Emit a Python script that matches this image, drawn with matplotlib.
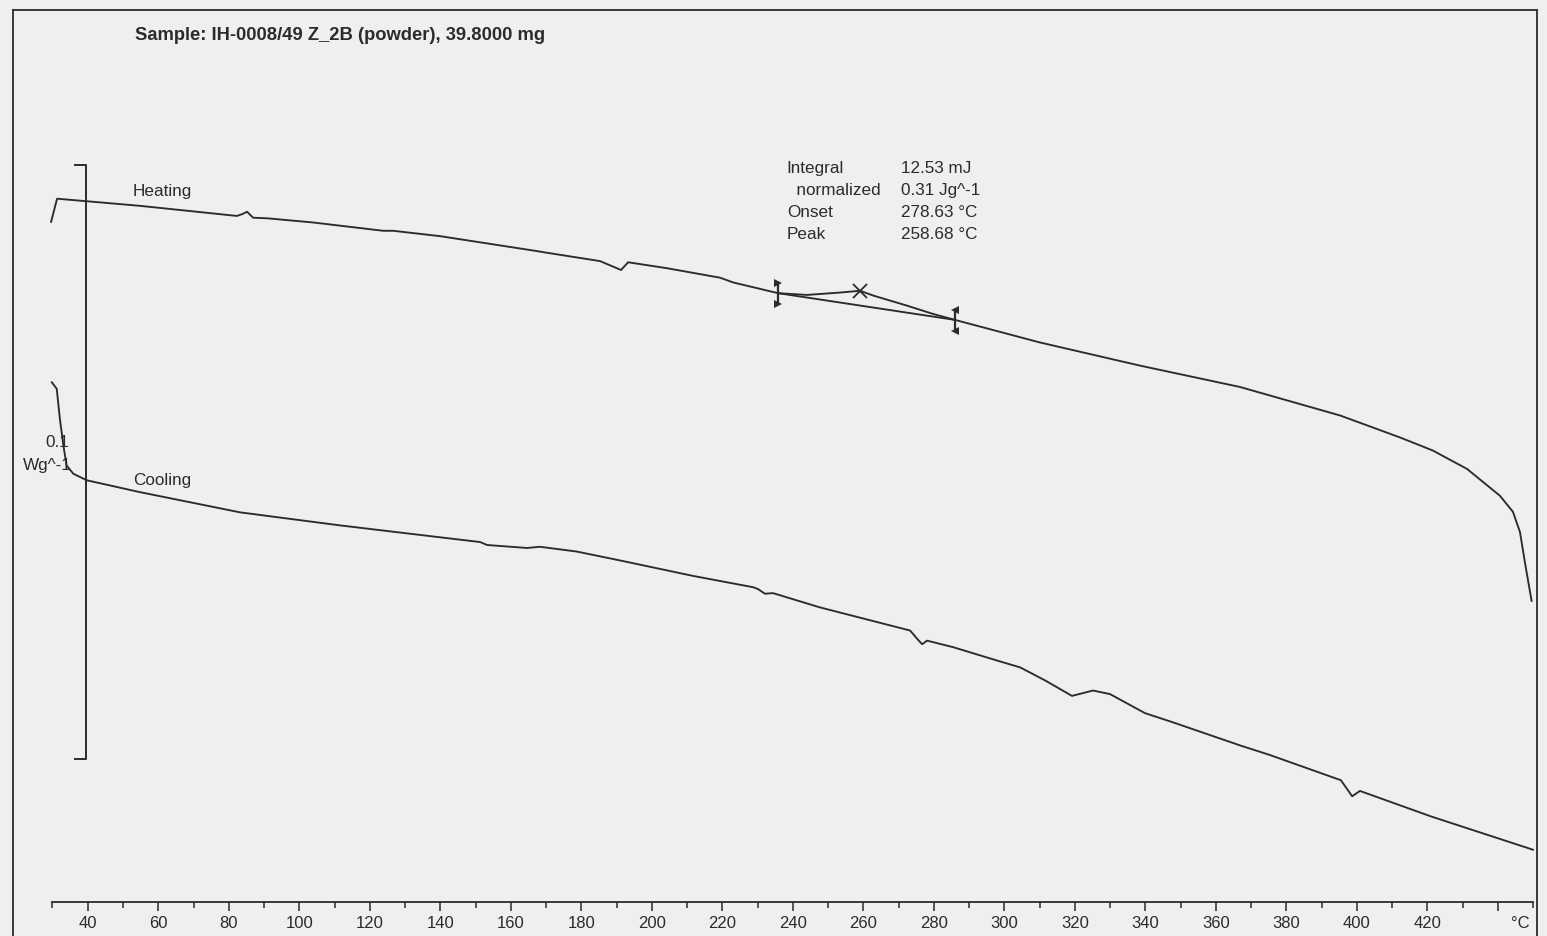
import numpy as np
import matplotlib
matplotlib.use("Agg")
import matplotlib.pyplot as plt
from matplotlib.ticker import MultipleLocator, FixedLocator, FixedFormatter

plt.rcParams['font.family'] = ['Liberation Sans', 'DejaVu Sans']

# ---------------- data ----------------
heat_T = [29.6, 31.3, 39.2, 54.8, 82.3, 83.8, 85.2, 86.9, 90.9, 103.9, 123.8, 126.6,
          139.9, 168.3, 169.2, 185.3, 191.3, 193.3, 204.3, 219.4, 223.1, 235.8, 244.0,
          253.4, 259.1, 262.8, 272.4, 279.8, 286.0, 310.1, 338.5, 366.9, 395.3, 412.3,
          421.6, 431.3, 440.6, 444.3, 446.3, 447.7, 449.6]
heat_W = [0.1145, 0.1184, 0.1180, 0.1172, 0.1155, 0.1158, 0.1162, 0.1152, 0.1151, 0.1144,
          0.1130, 0.1130, 0.1121, 0.1095, 0.1094, 0.1079, 0.1064, 0.1077, 0.1067, 0.1051,
          0.1043, 0.1025, 0.1022, 0.1026, 0.1029, 0.1021, 0.1004, 0.0990, 0.0980, 0.0942,
          0.0903, 0.0867, 0.0819, 0.0782, 0.0760, 0.0729, 0.0684, 0.0657, 0.0623, 0.0572,
          0.0507]

cool_T = [29.8, 31.2, 32.1, 33.1, 34.0, 35.9, 39.7, 54.8, 83.2, 111.6, 139.9, 151.3,
          153.3, 164.6, 168.3, 178.7, 191.0, 211.7, 228.7, 230.1, 232.1, 234.4, 247.7,
          273.3, 275.3, 276.7, 278.1, 285.5, 298.8, 304.5, 311.6, 319.2, 325.2, 330.0,
          339.9, 347.6, 367.2, 375.1, 395.5, 398.7, 400.9, 421.1, 450.0]
cool_W = [0.0875, 0.0864, 0.0813, 0.0768, 0.0735, 0.0721, 0.0710, 0.0690, 0.0656, 0.0634,
          0.0614, 0.0606, 0.0601, 0.0596, 0.0598, 0.0590, 0.0575, 0.0549, 0.0530, 0.0527,
          0.0519, 0.0520, 0.0496, 0.0457, 0.0443, 0.0434, 0.0440, 0.0429, 0.0405, 0.0395,
          0.0373, 0.0347, 0.0356, 0.0350, 0.0318, 0.0303, 0.0263, 0.0248, 0.0205, 0.0178,
          0.0187, 0.0144, 0.0088]

integ_limits = [235.8, 286.0]
peak_T = 259.08
peak_W = 0.1029

major_ticks = list(range(40, 441, 20))
tick_labels = [str(t) for t in major_ticks[:-1]] + ['']

result_names = ['Integral', '  normalized', 'Onset', 'Peak']
result_values = ['12.53 mJ', '0.31 Jg^-1', '278.63 °C', '258.68 °C']

title = 'Sample: IH-0008/49 Z_2B (powder), 39.8000 mg'

# ---------------- figure ----------------
W, H = 1547, 937
bg = '#efefed'
ink = '#2b2b2b'
fs = 12.3
fig = plt.figure(figsize=(W / 100, H / 100), dpi=100, facecolor=bg)

# outer frame
fr = fig.add_axes([13 / W, -0.02, (1537 - 13) / W, (937 - 11) / H + 0.02])
fr.set_facecolor(bg)
fr.set_xticks([]); fr.set_yticks([])
for s in fr.spines.values():
    s.set_color(ink); s.set_linewidth(1.3)
fr.spines['bottom'].set_visible(False)

ax = fig.add_axes([52.5 / W, (H - 903) / H, (1533 - 52.5) / W, (903 - 11) / H])
ax.patch.set_alpha(0)
ax.set_xlim(30, 450)
ax.set_ylim(0, 892 / 5940)
for side in ['left', 'right', 'top']:
    ax.spines[side].set_visible(False)
ax.spines['bottom'].set_color(ink)
ax.spines['bottom'].set_linewidth(1.3)
ax.set_yticks([])
ax.xaxis.set_major_locator(FixedLocator(major_ticks))
ax.xaxis.set_major_formatter(FixedFormatter(tick_labels))
ax.xaxis.set_minor_locator(MultipleLocator(10))
ax.tick_params(axis='x', which='major', direction='out', length=6.5, width=1.1,
               color=ink, labelsize=12, labelcolor=ink, pad=3)
ax.tick_params(axis='x', which='minor', direction='out', length=4, width=1.1, color=ink)
ax.annotate('°C', xy=(446.3, 0), xycoords=('data', 'axes fraction'),
            xytext=(0, -9.5), textcoords='offset points', ha='center', va='top',
            fontsize=12, color=ink)

# curves
lw = 1.35
ax.plot(heat_T, heat_W, color=ink, lw=lw, clip_on=False, solid_joinstyle='round')
ax.plot(cool_T, cool_W, color=ink, lw=lw, clip_on=False, solid_joinstyle='round')

# integration baseline and limits
base_W = np.interp(integ_limits, heat_T, heat_W)
ax.plot(integ_limits, base_W, color=ink, lw=lw)
for i, (t, w) in enumerate(zip(integ_limits, base_W)):
    y0, y1 = w + 0.0017, w - 0.0018
    ax.plot([t, t], [y0, y1], color=ink, lw=1.6)
    mk = '>' if i == 0 else '<'
    ax.plot([t, t], [y0, y1], linestyle='none', marker=mk, ms=6, color=ink,
            markeredgewidth=0)
ax.plot([peak_T], [peak_W], marker='x', ms=10, mew=1.3, color=ink)

# scale bar 0.1 W/g
sb_T = 39.5
sb_top = 0.1241
ax.plot([36.4, sb_T, sb_T, 36.4], [sb_top, sb_top, sb_top - 0.1, sb_top - 0.1],
        color=ink, lw=1.4)
ax.text(34.8, 0.0776, '0.1', ha='right', va='center', fontsize=fs, color=ink)
ax.text(35.5, 0.0737, 'Wg^-1', ha='right', va='center', fontsize=fs, color=ink)

# labels
ax.text(52.8, 0.1197, 'Heating', ha='left', va='center', fontsize=fs, color=ink)
ax.text(52.8, 0.0712, 'Cooling', ha='left', va='center', fontsize=fs, color=ink)
ax.text(53.4, 0.1461, title, ha='left', va='center', fontsize=13.2,
        fontweight='bold', color=ink)

ys = [0.1236, 0.1200, 0.1163, 0.1125]
for name, val, y in zip(result_names, result_values, ys):
    ax.text(238.3, y, name, ha='left', va='center', fontsize=fs, color=ink)
    ax.text(270.7, y, val, ha='left', va='center', fontsize=fs, color=ink)

fig.savefig('out.png', dpi=100, facecolor=bg)
